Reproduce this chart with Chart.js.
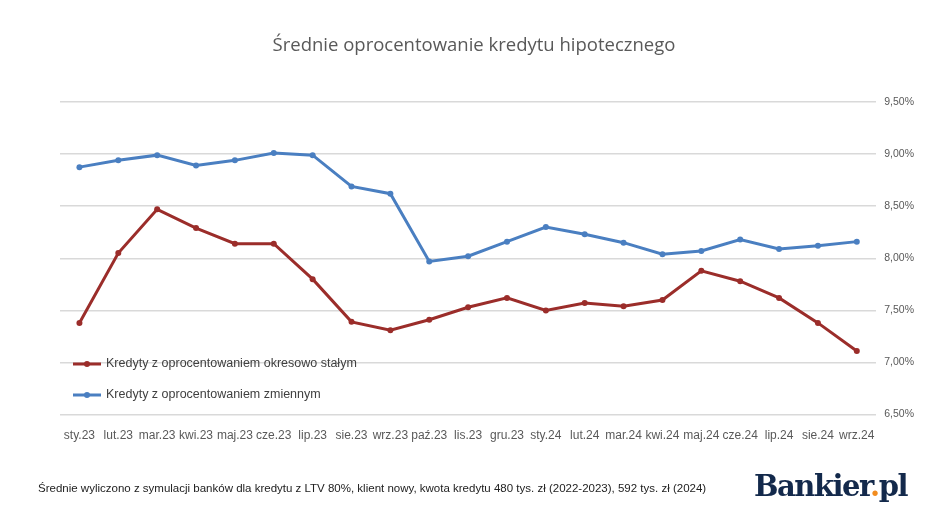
<!DOCTYPE html>
<html><head><meta charset="utf-8">
<script src="https://cdn.jsdelivr.net/npm/chart.js@4"></script>
<style>
body{margin:0;background:#fff;width:948px;height:510px;overflow:hidden;font-family:Calibri,Carlito,"Liberation Sans",sans-serif}
#wrap{position:absolute;left:0;top:0;width:948px;height:510px}
#title{position:absolute;top:31px;left:0;width:948px;text-align:center;font-size:18.5px;color:#595959;font-family:"Open Sans","Liberation Sans",sans-serif}
#foot{position:absolute;left:38px;top:482px;font-size:11.5px;color:#222;font-family:"Liberation Sans",Arial,sans-serif}
#logo{position:absolute;left:754px;top:469px;font-size:29px;font-weight:bold;color:#13294b;font-family:"DejaVu Serif","Liberation Serif",serif;letter-spacing:-1.5px}
#logo span{color:#f28c1e}
</style></head><body>
<div id="wrap"><canvas id="c" width="948" height="510"></canvas></div>
<div id="title">Średnie oprocentowanie kredytu hipotecznego</div>
<div id="foot">Średnie wyliczono z symulacji banków dla kredytu z LTV 80%, klient nowy, kwota kredytu 480 tys. zł (2022-2023), 592 tys. zł (2024)</div>
<div id="logo">Bankier<span>.</span>pl</div>
<script>
const categories=["sty.23","lut.23","mar.23","kwi.23","maj.23","cze.23","lip.23","sie.23","wrz.23","paź.23","lis.23","gru.23","sty.24","lut.24","mar.24","kwi.24","maj.24","cze.24","lip.24","sie.24","wrz.24"];
const fixedRate=[7.38,8.05,8.47,8.29,8.14,8.14,7.80,7.39,7.31,7.41,7.53,7.62,7.50,7.57,7.54,7.60,7.88,7.78,7.62,7.38,7.11];
const variableRate=[8.875,8.94,8.99,8.89,8.94,9.01,8.99,8.69,8.62,7.97,8.02,8.16,8.30,8.23,8.15,8.04,8.07,8.18,8.09,8.12,8.16];
const yTicks=[6.5,7,7.5,8,8.5,9,9.5];
const seriesNames=["Kredyty z oprocentowaniem okresowo stałym","Kredyty z oprocentowaniem zmiennym"];
const colors=["#9b2d2a","#4a7fc1"];
const legendPlugin={id:"lg",afterDraw(ch){const c=ch.ctx;c.save();c.font='12.5px "Liberation Sans",Arial,sans-serif';c.textBaseline='middle';
[[364,0],[395,1]].forEach(([y,i])=>{c.strokeStyle=colors[i];c.lineWidth=3;c.beginPath();c.moveTo(73,y);c.lineTo(101,y);c.stroke();c.fillStyle=colors[i];c.beginPath();c.arc(87,y,3,0,Math.PI*2);c.fill();c.fillStyle='#404040';c.fillText(seriesNames[i],106,y);});c.restore();}};
new Chart(document.getElementById('c'),{type:'line',
data:{labels:categories,datasets:[
{label:seriesNames[0],data:fixedRate,borderColor:colors[0],backgroundColor:colors[0],borderWidth:3,pointRadius:3,pointBorderWidth:0,pointHoverRadius:3,tension:0},
{label:seriesNames[1],data:variableRate,borderColor:colors[1],backgroundColor:colors[1],borderWidth:3,pointRadius:3,pointBorderWidth:0,pointHoverRadius:3,tension:0}]},
options:{responsive:false,animation:false,events:[],
layout:{padding:{left:60,right:26,top:102,bottom:61}},
plugins:{legend:{display:false},title:{display:false},tooltip:{enabled:false}},
scales:{
x:{offset:true,grid:{display:false},border:{display:false},ticks:{color:'#595959',font:{size:12,family:'"Liberation Sans",Arial,sans-serif'},maxRotation:0,autoSkip:false,padding:6}},
y:{position:'right',min:6.5,max:9.5,afterBuildTicks(a){a.ticks=yTicks.map(v=>({value:v}));},grid:{color:'#d9d9d9',lineWidth:1.5,drawTicks:false},border:{display:false},
ticks:{color:'#595959',padding:8,font:{size:10.5,family:'"Liberation Sans",Arial,sans-serif'},callback:v=>v.toFixed(2).replace('.',',')+'%'}}}},
plugins:[legendPlugin]});
</script></body></html>
